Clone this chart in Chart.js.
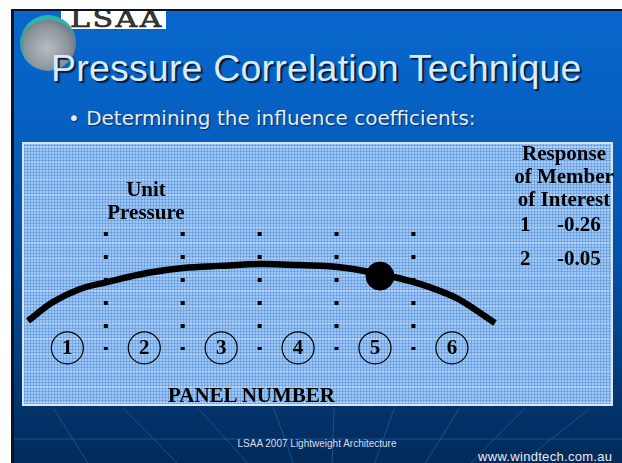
<!DOCTYPE html>
<html>
<head>
<meta charset="utf-8">
<script src="https://cdn.jsdelivr.net/npm/chart.js@4/dist/chart.umd.min.js"></script>
<style>
  html, body { margin: 0; padding: 0; background: #fff; }
  body { width: 622px; height: 463px; position: relative; overflow: hidden; font-family: "Liberation Sans", Arial, sans-serif; }
  #slide {
    position: absolute; left: 11px; top: 9px; width: 611px; height: 454px;
    border-left: 3px solid #0a1426; border-top: 2px solid #0a1426; box-sizing: border-box;
    background: linear-gradient(180deg, #0866cc 0%, #0660c2 25%, #0650a6 55%, #04366f 85%, #022a5a 100%);
    overflow: hidden;
  }
  #deco { position: absolute; left: 0; top: 0; }
  #logoBox { position: absolute; left: 47px; top: 0px; width: 105px; height: 18px; background: #fff; }
  #logoText {
    position: absolute; left: 56px; top: -6px; font-family: "DejaVu Serif", serif; font-size: 24px; letter-spacing: 2px;
    color: #3a3a3a; -webkit-text-stroke: 0.6px #111; transform: scaleX(1.25); transform-origin: left top;
  }
  #globe {
    position: absolute; left: 6px; top: 4px; width: 56px; height: 56px; border-radius: 50%;
    background: radial-gradient(circle at 45% 55%, #b8bcc2 0%, #8c939b 55%, #6d7782 75%, rgba(0,0,0,0) 76%);
    border-top: 5px solid #2fb3a8; border-left: 3px solid rgba(47,179,168,0.6); box-sizing: border-box;
  }
  #title {
    position: absolute; left: 37px; top: 39px; font-size: 37.5px; line-height: 37px; color: #d9ecff;
    text-shadow: 2px 2px 1px #0c1a35; white-space: nowrap; letter-spacing: 0.2px;
  }
  #subtitle {
    position: absolute; left: 54px; top: 96px; font-family: "DejaVu Sans", Verdana, sans-serif; font-size: 20px; line-height: 22px; color: #e6eef8;
    white-space: nowrap; text-shadow: 1px 1px 1px #0a2a60;
  }
  #panel {
    position: absolute; left: 22px; top: 142px; width: 591px; height: 264px;
    border: 2px solid #d6e6f8; box-sizing: border-box;
    background-color: #9cc6f3;
    background-image:
      repeating-linear-gradient(0deg, rgba(70,130,210,0.4) 0 1px, rgba(0,0,0,0) 1px 3px),
      repeating-linear-gradient(90deg, rgba(70,130,210,0.4) 0 1px, rgba(0,0,0,0) 1px 3px),
      repeating-linear-gradient(0deg, rgba(255,255,255,0.25) 0 2px, rgba(0,0,0,0) 2px 16px);
  }
  #chartWrap { position: absolute; left: 22px; top: 143px; width: 590px; height: 262px; }
  .lbl { position: absolute; font-family: "Liberation Serif", "Times New Roman", serif; font-weight: bold; color: #000; white-space: nowrap; }
  #unitLbl { left: 86px; top: 178px; width: 120px; text-align: center; font-size: 21px; line-height: 23px; }
  #respLbl { left: 498px; top: 142px; width: 132px; text-align: center; font-size: 21px; line-height: 23px; }
  #panelLbl { left: 168px; top: 384px; font-size: 21px; line-height: 22px; }
  .respRow { position: absolute; font-size: 21px; line-height: 22px; }
  #footer { position: absolute; left: 217px; width: 200px; top: 438px; text-align: center; font-size: 10px; color: #d8dde8; }
  #url { position: absolute; left: 478px; top: 449px; font-size: 13px; color: #e8ecf4; letter-spacing: 0.3px; }
</style>
</head>
<body>
<div id="slide">
  <svg id="deco" width="611" height="454">
    <g stroke="#3b78c0" stroke-opacity="0.45" stroke-width="1" fill="none">
      <line x1="0" y1="428" x2="611" y2="428"/>
      <line x1="40" y1="398" x2="75" y2="454"/>
      <line x1="110" y1="398" x2="165" y2="454"/>
      <line x1="185" y1="398" x2="235" y2="454"/>
      <line x1="260" y1="398" x2="280" y2="454"/>
      <line x1="320" y1="398" x2="318" y2="454"/>
      <line x1="380" y1="398" x2="360" y2="454"/>
      <line x1="445" y1="398" x2="410" y2="454"/>
      <line x1="510" y1="398" x2="455" y2="454"/>
      <line x1="575" y1="398" x2="505" y2="454"/>
    </g>
  </svg>
  <div id="logoBox"></div>
  <div id="logoText">LSAA</div>
  <div id="globe"></div>
  <div id="title">Pressure Correlation Technique</div>
  <div id="subtitle">• Determining the influence coefficients:</div>
</div>
<div id="panel"></div>
<div id="chartWrap"><canvas id="chart"></canvas></div>
<div class="lbl" id="unitLbl">Unit<br>Pressure</div>
<div class="lbl" id="respLbl">Response<br>of Member<br>of Interest</div>
<div class="lbl" id="panelLbl">PANEL NUMBER</div>
<div id="respRows"></div>
<div id="footer">LSAA 2007 Lightweight Architecture</div>
<div id="url">www.windtech.com.au</div>

<script>
// panel numbers along the span
const panels = [1, 2, 3, 4, 5, 6];
// boundaries between panels (unit pressure strips)
const boundaries = [1.5, 2.5, 3.5, 4.5, 5.5];
const stripTop = 6.6;
const stripBottom = 2.1;
const panelRowY = 2.18;

// influence line
const lineX = [0.488, 0.813, 1.164, 1.515, 2.035, 2.504, 2.985, 3.518, 4.012, 4.519, 5.065, 5.507, 5.846, 6.106, 6.561];
const lineY = [3.21, 3.93, 4.43, 4.69, 5.04, 5.23, 5.31, 5.38, 5.34, 5.27, 5.00, 4.69, 4.35, 4.01, 3.13];

// member of interest
const memberX = [5.065];
const memberY = [4.92];

// response table
const loadCases = ["1", "2"];
const responses = ["-0.26", "-0.05"];

let rows = document.getElementById("respRows");
loadCases.forEach((c, i) => {
  let top = 213 + i * 34;
  rows.innerHTML += `<div class="lbl respRow" style="left:520px;top:${top}px">${c}</div>` +
                    `<div class="lbl respRow" style="left:557px;top:${top}px">${responses[i]}</div>`;
});

let stripData = [];
boundaries.forEach((b) => {
  stripData.push({x: b, y: stripTop});
  stripData.push({x: b, y: stripBottom});
  stripData.push({x: b, y: null});
});

const panelNumbers = {
  id: 'panelNumbers',
  afterDatasetsDraw(chart) {
    const ctx = chart.ctx;
    const meta = chart.getDatasetMeta(2);
    ctx.save();
    ctx.font = 'bold 21px "Liberation Serif", serif';
    ctx.fillStyle = '#000';
    ctx.textAlign = 'center';
    ctx.textBaseline = 'middle';
    meta.data.forEach((pt, i) => {
      ctx.fillText(String(panels[i]), pt.x, pt.y + 1);
    });
    ctx.restore();
  }
};

const data = {
  datasets: [{
    label: 'Influence line',
    data: lineX.map((x, i) => ({x: x, y: lineY[i]})),
    borderColor: '#000',
    borderWidth: 6.5,
    borderCapStyle: 'butt',
    pointRadius: 0,
    tension: 0.4,
    fill: false
  }, {
    label: 'Unit pressure strips',
    data: stripData,
    borderColor: '#000',
    borderWidth: 4,
    borderDash: [4, 19],
    pointRadius: 0,
    spanGaps: false,
    fill: false
  }, {
    label: 'Panels',
    data: panels.map((p) => ({x: p, y: panelRowY})),
    showLine: false,
    pointStyle: 'circle',
    pointRadius: 16,
    pointBorderWidth: 1.2,
    pointBorderColor: '#000',
    pointBackgroundColor: 'rgba(0,0,0,0)'
  }, {
    label: 'Member of interest',
    data: memberX.map((x, i) => ({x: x, y: memberY[i]})),
    showLine: false,
    pointRadius: 14,
    pointBackgroundColor: '#000',
    pointBorderColor: '#000'
  }]
};

const config = {
  type: 'line',
  data: data,
  options: {
    responsive: true,
    maintainAspectRatio: false,
    animation: false,
    layout: { padding: 0, autoPadding: false },
    plugins: { legend: { display: false }, tooltip: { enabled: false } },
    scales: {
      x: { type: 'linear', min: 0.41, max: 8.082, display: false },
      y: { type: 'linear', min: 0, max: 10, display: false }
    }
  },
  plugins: [panelNumbers]
};

const myChart = new Chart(document.getElementById('chart'), config);
</script>
</body>
</html>
